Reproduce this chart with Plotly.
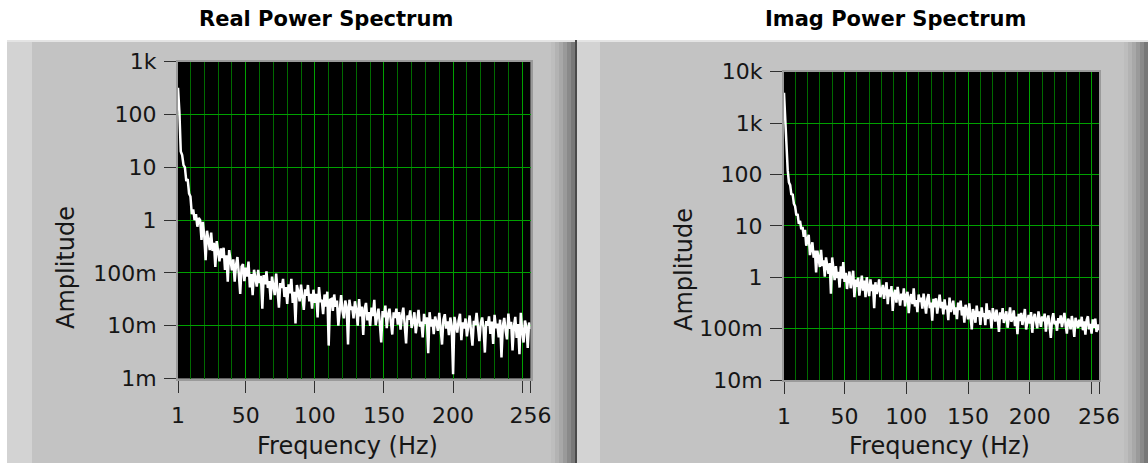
import plotly.graph_objects as go

W, H = 1148, 463

# Frequency bins (Hz)
freq_hz = list(range(1, 257))

# Real-part power spectrum amplitude, one value per bin
real_power = [
    320, 115, 20, 17, 11, 10, 5.5, 6, 3.2, 2.8, 1.3, 1.6, 1.0, 1.3, 0.75, 1.1,
    1.0, 0.42, 0.93, 0.5, 0.175, 0.63, 0.42, 0.27, 0.58, 0.26, 0.37, 0.13, 0.4, 0.28, 0.165, 0.29,
    0.19, 0.3, 0.114, 0.216, 0.068, 0.27, 0.155, 0.112, 0.18, 0.068, 0.143, 0.2, 0.096, 0.04, 0.132, 0.147,
    0.07, 0.126, 0.085, 0.164, 0.053, 0.095, 0.038, 0.115, 0.08, 0.055, 0.114, 0.064, 0.088, 0.021, 0.091, 0.061,
    0.107, 0.052, 0.07, 0.031, 0.085, 0.06, 0.038, 0.097, 0.05, 0.022, 0.064, 0.052, 0.077, 0.035, 0.054, 0.026,
    0.061, 0.041, 0.077, 0.027, 0.044, 0.011, 0.059, 0.045, 0.029, 0.06, 0.035, 0.02, 0.049, 0.037, 0.059, 0.029,
    0.04, 0.021, 0.048, 0.027, 0.04, 0.0144, 0.054, 0.028, 0.031, 0.0165, 0.039, 0.023, 0.044, 0.0042, 0.031, 0.032,
    0.019, 0.039, 0.023, 0.03, 0.01, 0.025, 0.038, 0.019, 0.0138, 0.03, 0.023, 0.0044, 0.031, 0.02, 0.023, 0.0137,
    0.029, 0.02, 0.01, 0.032, 0.015, 0.023, 0.0067, 0.021, 0.027, 0.0126, 0.018, 0.0099, 0.022, 0.0153, 0.031, 0.0102,
    0.016, 0.021, 0.0112, 0.0048, 0.019, 0.0144, 0.024, 0.009, 0.0165, 0.021, 0.012, 0.0068, 0.018, 0.014, 0.021, 0.0105,
    0.018, 0.0084, 0.0154, 0.022, 0.0104, 0.0046, 0.0156, 0.013, 0.0195, 0.0091, 0.0117, 0.018, 0.0072, 0.0132, 0.02, 0.0096,
    0.012, 0.006, 0.0168, 0.0108, 0.0144, 0.003, 0.018, 0.0096, 0.0132, 0.0069, 0.0149, 0.0115, 0.008, 0.0176, 0.0099, 0.0044,
    0.0132, 0.0165, 0.0088, 0.0121, 0.0066, 0.0143, 0.0099, 0.0012, 0.0147, 0.0105, 0.0074, 0.0126, 0.0168, 0.0053, 0.0116, 0.0089,
    0.0137, 0.0063, 0.0104, 0.0156, 0.0078, 0.0042, 0.0124, 0.0103, 0.0175, 0.0082, 0.0051, 0.0112, 0.0143, 0.0092, 0.0031, 0.0122,
    0.01, 0.015, 0.007, 0.012, 0.0045, 0.016, 0.009, 0.011, 0.006, 0.013, 0.0025, 0.01, 0.014, 0.008, 0.0055, 0.017,
    0.0088, 0.0118, 0.0034, 0.0098, 0.0147, 0.0059, 0.0107, 0.0029, 0.0175, 0.0078, 0.0048, 0.0125, 0.0096, 0.0038, 0.0115, 0.0086,
]

# Imaginary-part power spectrum amplitude, one value per bin
imag_power = [
    3900, 1000, 260, 120, 70, 62, 40, 42, 27, 24, 16, 17, 11, 12.5, 8.6, 9.5,
    6.1, 8.4, 4.1, 5.75, 6.7, 2.7, 3.7, 4.8, 2.4, 3.3, 1.24, 3.3, 2.35, 1.58, 3.4, 1.66,
    2.13, 1.03, 2.44, 1.58, 1.17, 1.89, 0.48, 2.43, 1.37, 0.88, 1.65, 0.97, 1.27, 0.63, 1.63, 0.94,
    1.98, 0.81, 1.22, 0.59, 0.96, 1.29, 0.61, 0.83, 1.34, 0.41, 0.9, 0.65, 0.98, 0.44, 0.73, 1.07,
    0.55, 0.86, 0.41, 1.0, 0.62, 0.43, 0.91, 0.54, 0.72, 0.25, 0.8, 0.47, 0.59, 0.91, 0.41, 0.6,
    0.71, 0.38, 0.52, 0.8, 0.3, 0.58, 0.42, 0.67, 0.22, 0.46, 0.57, 0.32, 0.65, 0.41, 0.28, 0.48,
    0.36, 0.61, 0.27, 0.43, 0.52, 0.2, 0.39, 0.47, 0.3, 0.61, 0.27, 0.36, 0.21, 0.46, 0.33, 0.4,
    0.245, 0.48, 0.31, 0.195, 0.38, 0.47, 0.25, 0.32, 0.143, 0.38, 0.26, 0.39, 0.195, 0.32, 0.46, 0.25,
    0.33, 0.19, 0.37, 0.24, 0.28, 0.146, 0.4, 0.21, 0.29, 0.35, 0.187, 0.26, 0.153, 0.32, 0.23, 0.35,
    0.18, 0.265, 0.13, 0.29, 0.22, 0.151, 0.31, 0.179, 0.097, 0.24, 0.2, 0.13, 0.28, 0.17, 0.216, 0.118,
    0.26, 0.17, 0.2, 0.117, 0.31, 0.154, 0.227, 0.18, 0.101, 0.25, 0.19, 0.137, 0.233, 0.16, 0.086, 0.207,
    0.153, 0.25, 0.129, 0.178, 0.218, 0.104, 0.19, 0.26, 0.136, 0.162, 0.226, 0.112, 0.171, 0.078, 0.194, 0.14,
    0.203, 0.118, 0.164, 0.241, 0.096, 0.15, 0.185, 0.125, 0.209, 0.083, 0.158, 0.193, 0.133, 0.101, 0.216, 0.154,
    0.108, 0.172, 0.139, 0.195, 0.087, 0.147, 0.18, 0.113, 0.066, 0.155, 0.2, 0.121, 0.141, 0.091, 0.16, 0.128,
    0.181, 0.107, 0.137, 0.202, 0.116, 0.08, 0.156, 0.135, 0.097, 0.176, 0.124, 0.069, 0.163, 0.132, 0.102, 0.15,
    0.11, 0.17, 0.093, 0.139, 0.076, 0.147, 0.174, 0.097, 0.124, 0.08, 0.151, 0.104, 0.157, 0.086, 0.12, 0.093,
]

# Axis ticks
x_tick_vals = [1, 50, 100, 150, 200, 250, 256]
x_tick_text = ["1", "50", "100", "150", "200", "", "256"]
x_minor_vals = [10, 20, 30, 40, 60, 70, 80, 90, 110, 120, 130, 140, 160, 170, 180, 190,
                210, 220, 230, 240]
real_y_vals = [1e-3, 1e-2, 1e-1, 1, 10, 100, 1000]
real_y_text = ["1m", "10m", "100m", "1", "10", "100", "1k"]
imag_y_vals = [1e-2, 1e-1, 1, 10, 100, 1000, 10000]
imag_y_text = ["10m", "100m", "1", "10", "100", "1k", "10k"]

FONT = "DejaVu Sans"
TEXT = "#161616"
PANEL = "#c3c3c3"
GRID_MAJOR = "#00a000"
GRID_MINOR = "#006a00"

# Plot-area extents in pixels (left, right, top, bottom)
REAL_BOX = (178, 530.5, 61.7, 378.5)
IMAG_BOX = (784, 1099, 71.7, 380)


def px(x):
    return x / W


def py(y):
    return 1 - y / H


fig = go.Figure()
fig.add_trace(go.Scatter(x=freq_hz, y=real_power, mode="lines",
                         line=dict(color="white", width=2.5),
                         xaxis="x", yaxis="y", showlegend=False, hoverinfo="skip"))
fig.add_trace(go.Scatter(x=freq_hz, y=imag_power, mode="lines",
                         line=dict(color="white", width=2.5),
                         xaxis="x2", yaxis="y2", showlegend=False, hoverinfo="skip"))


def x_axis(box, anchor):
    return dict(
        domain=[px(box[0]), px(box[1])], anchor=anchor, range=[1, 256],
        tickmode="array", tickvals=x_tick_vals, ticktext=x_tick_text,
        ticks="outside", ticklen=12, tickwidth=1, tickcolor="#303030",
        ticklabelstandoff=4,
        tickfont=dict(family=FONT, size=22, color=TEXT),
        showgrid=True, gridcolor=GRID_MAJOR, gridwidth=1,
        minor=dict(tickmode="array", tickvals=x_minor_vals, showgrid=True,
                   gridcolor=GRID_MINOR, gridwidth=1, ticks=""),
        showline=True, linecolor="#9a9a9a", linewidth=2, mirror=True,
        zeroline=False, fixedrange=True, automargin=False,
    )


def y_axis(box, anchor, rng, vals, text):
    return dict(
        domain=[py(box[3]), py(box[2])], anchor=anchor, type="log", range=rng,
        tickmode="array", tickvals=vals, ticktext=text,
        ticks="outside", ticklen=12, tickwidth=1, tickcolor="#303030",
        ticklabelstandoff=3,
        tickfont=dict(family=FONT, size=22, color=TEXT),
        showgrid=True, gridcolor=GRID_MAJOR, gridwidth=1,
        showline=True, linecolor="#9a9a9a", linewidth=2, mirror=True,
        zeroline=False, fixedrange=True, automargin=False,
    )


shapes = []


def rect(x0, x1, y0, y1, color):
    shapes.append(dict(type="rect", xref="paper", yref="paper",
                       x0=px(x0), x1=px(x1), y0=py(y1), y1=py(y0),
                       fillcolor=color, line=dict(width=0), layer="below"))


# Left panel
rect(7, 577, 40, 463, PANEL)
rect(7, 32, 40, 463, "#d3d3d3")
rect(7, 577, 40, 42, "#e4e4e4")
for i, c in enumerate(["#bdbdbd", "#b3b3b3", "#a8a8a8", "#9a9a9a", "#8a8a8a", "#787878"]):
    rect(551 + i * 4, 555 + i * 4, 42, 463, c)
rect(575, 577, 40, 463, "#4a4a4a")

# Right panel
rect(577, 1148, 40, 463, PANEL)
rect(577, 600, 40, 463, "#d3d3d3")
rect(577, 1148, 40, 42, "#e4e4e4")
for i, c in enumerate(["#bdbdbd", "#b3b3b3", "#a8a8a8", "#9a9a9a", "#8a8a8a", "#787878"]):
    rect(1124 + i * 4, 1128 + i * 4, 42, 463, c)

# Black plotting areas
for b in (REAL_BOX, IMAG_BOX):
    rect(b[0], b[1], b[2], b[3], "black")

annotations = []


def label(text, x, y, size=24, angle=0, bold=False):
    annotations.append(dict(
        text=f"<b>{text}</b>" if bold else text, xref="paper", yref="paper",
        x=px(x), y=py(y), xanchor="center", yanchor="middle", showarrow=False,
        textangle=angle, font=dict(family=FONT, size=size, color="#000000" if bold else TEXT),
    ))


label("Real Power Spectrum", 326, 19, size=21, bold=True)
label("Imag Power Spectrum", 895, 19, size=21, bold=True)
label("Amplitude", 66, 268, angle=-90)
label("Amplitude", 684, 270, angle=-90)
label("Frequency (Hz)", 347, 446)
label("Frequency (Hz)", 939, 446)

fig.update_layout(
    template="none",
    width=W, height=H, autosize=False,
    margin=dict(l=0, r=0, t=0, b=0, pad=0),
    paper_bgcolor="white", plot_bgcolor="black",
    xaxis=x_axis(REAL_BOX, "y"),
    yaxis=y_axis(REAL_BOX, "x", [-3, 3], real_y_vals, real_y_text),
    xaxis2=x_axis(IMAG_BOX, "y2"),
    yaxis2=y_axis(IMAG_BOX, "x2", [-2, 4], imag_y_vals, imag_y_text),
    shapes=shapes, annotations=annotations,
)

fig.write_html("out.html", config=dict(displayModeBar=False))
